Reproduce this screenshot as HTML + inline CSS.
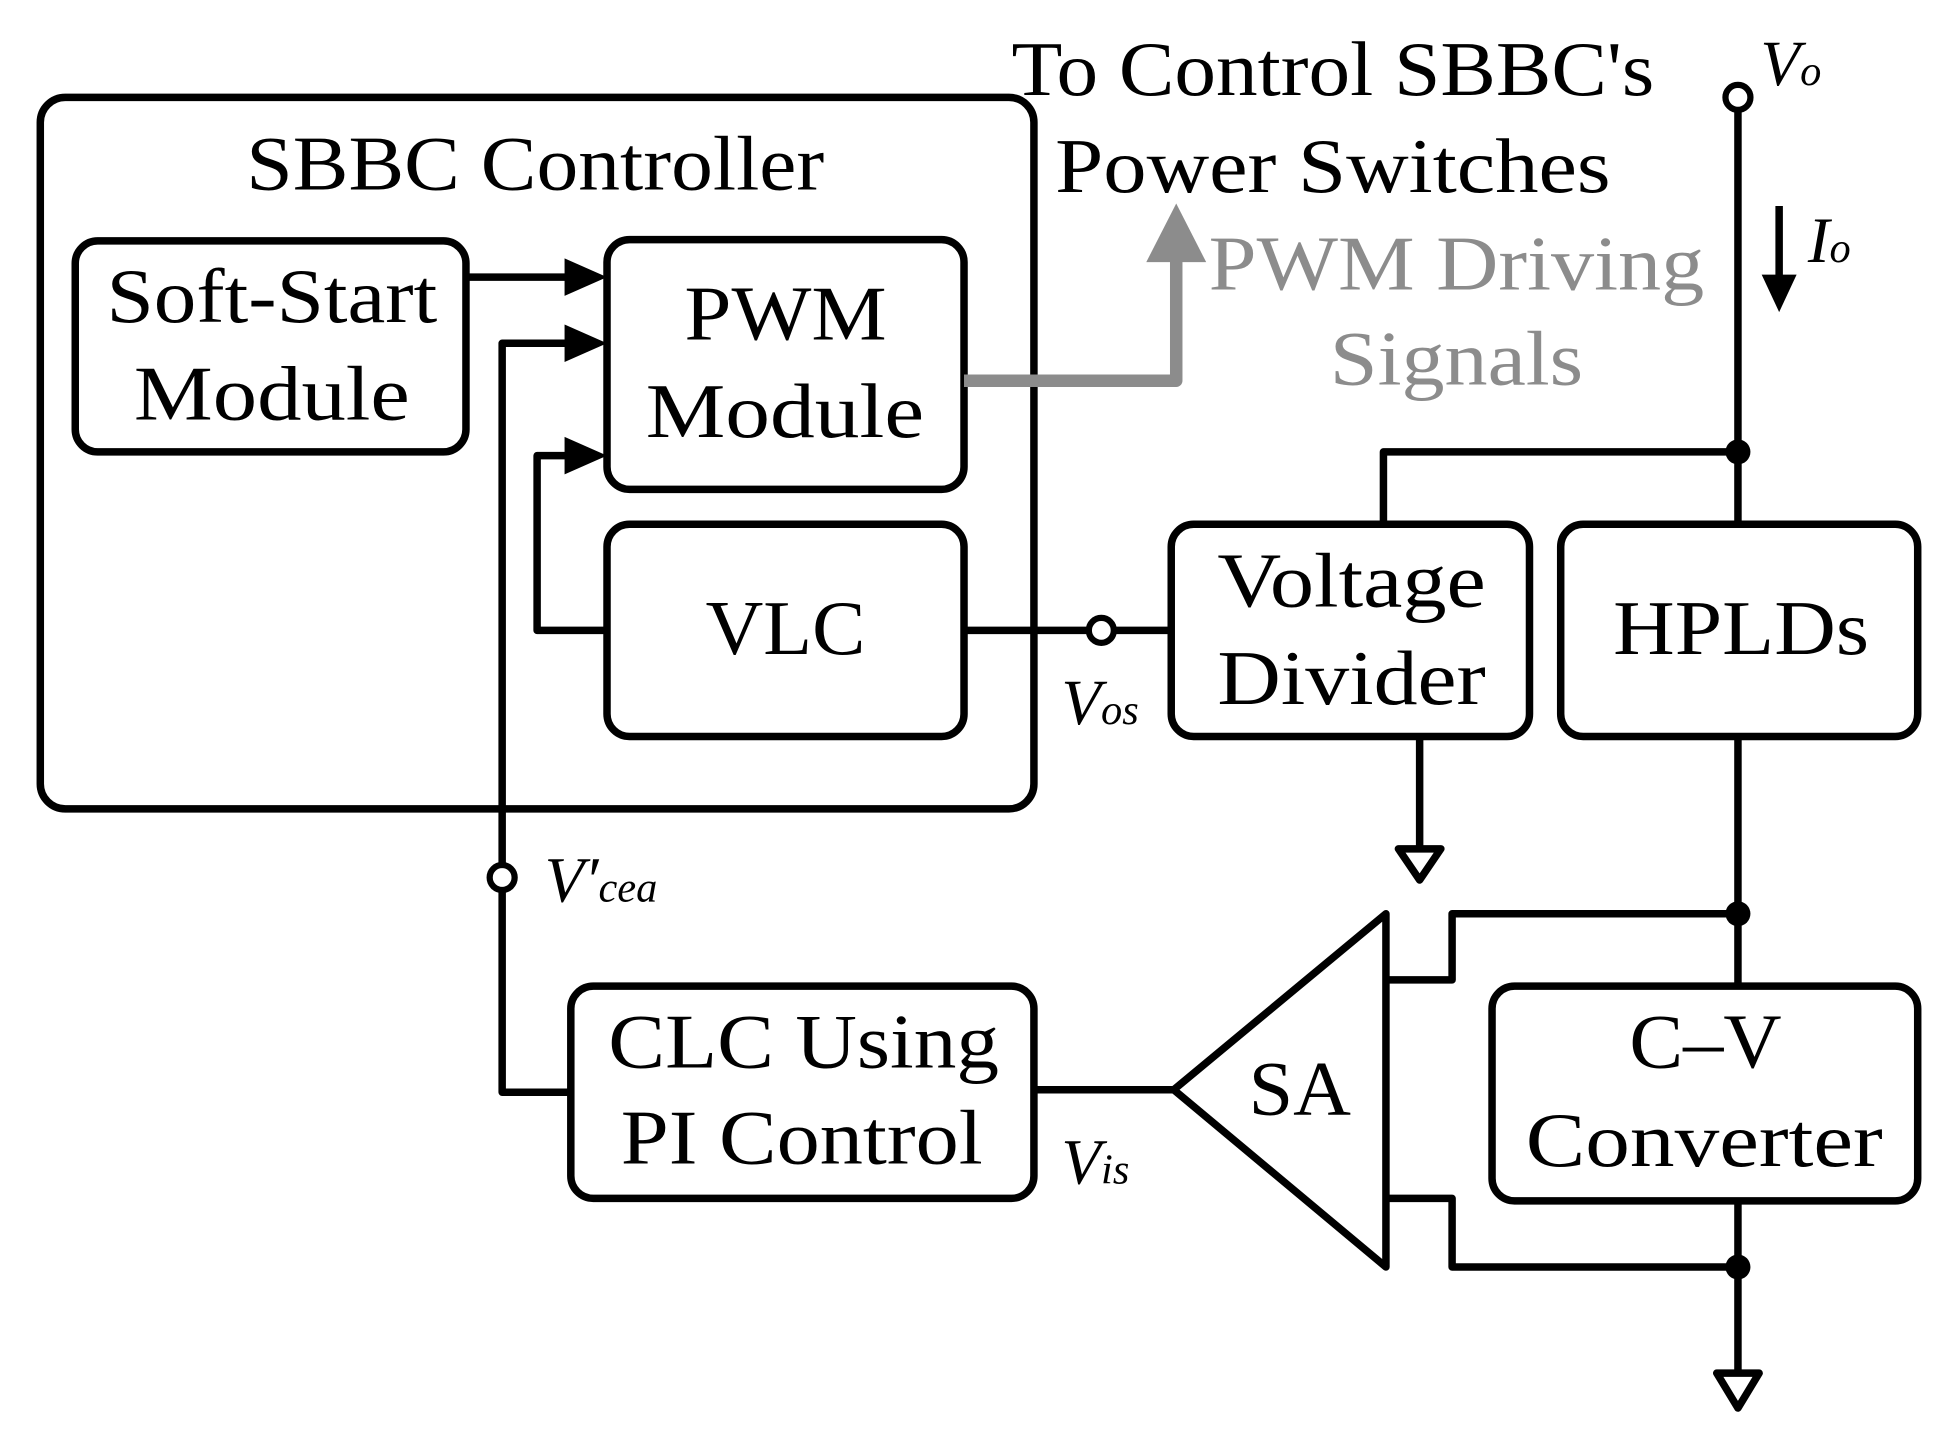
<!DOCTYPE html>
<html><head><meta charset="utf-8"><style>
html,body{margin:0;padding:0;background:#fff;}
svg{display:block;}
text{font-family:"Liberation Serif",serif;}
</style></head><body>
<svg width="1958" height="1448" viewBox="0 0 1568 1160" xmlns="http://www.w3.org/2000/svg">
<g fill="none" stroke="#000" stroke-width="6" stroke-linejoin="round">
<rect x="32" y="78" width="796" height="570" rx="20"/>
<rect x="60" y="193" width="313" height="169" rx="18"/>
<rect x="486" y="192" width="286" height="200" rx="18"/>
<rect x="486" y="420" width="286" height="170" rx="18"/>
<rect x="938" y="420" width="287" height="170" rx="18"/>
<rect x="1250" y="420" width="286" height="170" rx="18"/>
<rect x="457" y="790" width="371" height="170" rx="18"/>
<rect x="1195" y="790" width="341" height="172" rx="18"/>
<line x1="1392" y1="88" x2="1392" y2="420"/>
<line x1="1392" y1="590" x2="1392" y2="790"/>
<line x1="1392" y1="962" x2="1392" y2="1100"/>
<polygon points="1375,1100 1409,1100 1392,1128"/>
<polyline points="1392,362 1108,362 1108,420"/>
<line x1="1137" y1="590" x2="1137" y2="680"/>
<polygon points="1120,680 1154,680 1137,705"/>
<line x1="772" y1="505" x2="872" y2="505"/>
<line x1="892" y1="505" x2="938" y2="505"/>
<polyline points="486,505 430,505 430,365 470,365"/>
<line x1="373" y1="222" x2="470" y2="222"/>
<polyline points="402,694 402,275 470,275"/>
<polyline points="402,713 402,875 457,875"/>
<line x1="828" y1="873" x2="940" y2="873"/>
<polygon points="940,873 1110,732 1110,1015"/>
<polyline points="1110,785 1163,785 1163,732 1392,732"/>
<polyline points="1110,960 1163,960 1163,1015 1392,1015"/>
<line x1="1425" y1="165" x2="1425" y2="225"/>
</g>
<g fill="#000">
<polygon points="486,222 452,207 452,237"/>
<polygon points="486,275 452,260 452,290"/>
<polygon points="486,365 452,350 452,380"/>
<polygon points="1425,250 1411,220 1439,220"/>
<circle cx="1392" cy="362" r="10"/>
<circle cx="1392" cy="732" r="10"/>
<circle cx="1392" cy="1015" r="10"/>
</g>
<g fill="#fff" stroke="#000" stroke-width="5">
<circle cx="1392" cy="78" r="10"/>
<circle cx="882" cy="505" r="10"/>
<circle cx="402" cy="703" r="10"/>
</g>
<polyline points="772,305 942,305 942,195" fill="none" stroke="#8c8c8c" stroke-width="10" stroke-linejoin="round"/>
<polygon points="942,163 918,210 966,210" fill="#8c8c8c"/>
<g font-size="62" fill="#000" lengthAdjust="spacingAndGlyphs">
<text x="197" y="152" textLength="463" lengthAdjust="spacingAndGlyphs">SBBC Controller</text>
<text x="85" y="258" textLength="265" lengthAdjust="spacingAndGlyphs">Soft-Start</text>
<text x="107" y="336" textLength="221" lengthAdjust="spacingAndGlyphs">Module</text>
<text x="548" y="272" textLength="162" lengthAdjust="spacingAndGlyphs">PWM</text>
<text x="517" y="350" textLength="223" lengthAdjust="spacingAndGlyphs">Module</text>
<text x="565" y="524" textLength="128" lengthAdjust="spacingAndGlyphs">VLC</text>
<text x="975" y="486" textLength="215" lengthAdjust="spacingAndGlyphs">Voltage</text>
<text x="975" y="564" textLength="215" lengthAdjust="spacingAndGlyphs">Divider</text>
<text x="1292" y="524" textLength="205" lengthAdjust="spacingAndGlyphs">HPLDs</text>
<text x="487" y="855" textLength="313" lengthAdjust="spacingAndGlyphs">CLC Using</text>
<text x="497" y="932" textLength="290" lengthAdjust="spacingAndGlyphs">PI Control</text>
<text x="1305" y="855" textLength="122" lengthAdjust="spacingAndGlyphs">C–V</text>
<text x="1222" y="934" textLength="286" lengthAdjust="spacingAndGlyphs">Converter</text>
<text x="1000" y="893" textLength="82" lengthAdjust="spacingAndGlyphs">SA</text>
<text x="810" y="76" textLength="515" lengthAdjust="spacingAndGlyphs">To Control SBBC's</text>
<text x="845" y="154" textLength="445" lengthAdjust="spacingAndGlyphs">Power Switches</text>
<text x="968" y="232" fill="#8c8c8c" textLength="397" lengthAdjust="spacingAndGlyphs">PWM Driving</text>
<text x="1065" y="308" fill="#8c8c8c" textLength="203" lengthAdjust="spacingAndGlyphs">Signals</text>
</g>
<g font-style="italic" fill="#000">
<text x="1410" y="68" font-size="52">V<tspan font-size="34">o</tspan></text>
<text x="1448" y="210" font-size="52">I<tspan font-size="34">o</tspan></text>
<text x="850" y="580" font-size="52">V<tspan font-size="34">os</tspan></text>
<text x="436" y="722" font-size="52">V′<tspan font-size="34">cea</tspan></text>
<text x="850" y="948" font-size="52">V<tspan font-size="34">is</tspan></text>
</g>
</svg>
</body></html>
